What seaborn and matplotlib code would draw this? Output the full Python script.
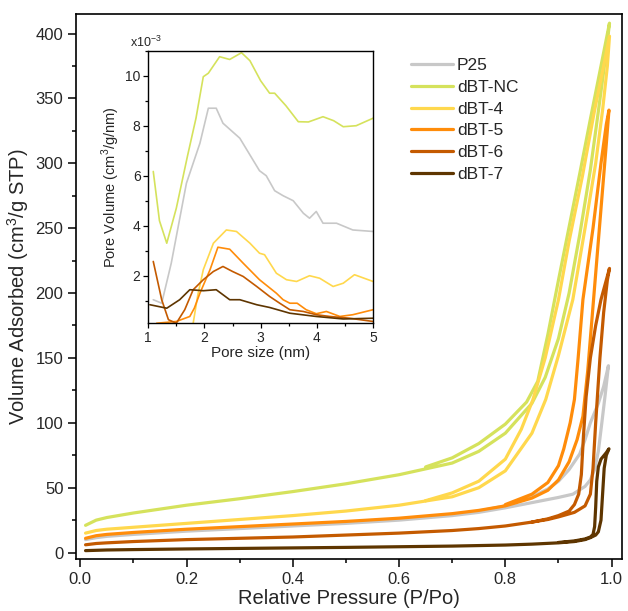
import numpy as np
import matplotlib
matplotlib.use("Agg")
import matplotlib.pyplot as plt
from matplotlib.ticker import MultipleLocator
import seaborn as sns

sns.set_theme(style="ticks")
plt.rcParams["font.family"] = ["Liberation Sans", "DejaVu Sans"]
plt.rcParams["mathtext.fontset"] = "custom"
plt.rcParams["mathtext.rm"] = "Liberation Sans"

samples = ["P25", "dBT-NC", "dBT-4", "dBT-5", "dBT-6", "dBT-7"]
colors = ["#c8c8c8", "#d5e25c", "#ffd84d", "#ff8c0a", "#c45a00", "#5e3500"]

# ---- N2 isotherms: adsorption (ascending) and desorption (descending) branches
p25_p_ads = [0.01, 0.03, 0.05, 0.1, 0.2, 0.3, 0.4, 0.5, 0.6, 0.7, 0.75, 0.8, 0.85, 0.9, 0.927, 0.95, 0.96, 0.968, 0.975, 0.981, 0.988, 0.994]
p25_v_ads = [10, 11.5, 12.5, 14, 16.5, 18.5, 20.5, 22.5, 25, 28.5, 31, 34.5, 38.5, 42.5, 45, 51, 56, 64, 78, 98, 122, 144]
p25_p_des = [0.994, 0.985, 0.975, 0.96, 0.95, 0.94, 0.92, 0.9, 0.88, 0.85, 0.8, 0.75]
p25_v_des = [144, 128, 115, 100, 87, 76, 64, 55, 49, 43, 36, 32]

nc_p_ads = [0.01, 0.03, 0.05, 0.1, 0.2, 0.3, 0.4, 0.5, 0.6, 0.7, 0.75, 0.8, 0.85, 0.875, 0.9, 0.92, 0.94, 0.96, 0.975, 0.988, 0.996]
nc_v_ads = [21, 25, 27, 30.5, 36.5, 41.5, 47, 53, 60, 69, 78, 92, 115, 135, 165, 200, 245, 295, 340, 380, 408]
nc_p_des = [0.996, 0.98, 0.96, 0.94, 0.92, 0.9, 0.88, 0.861, 0.84, 0.8, 0.75, 0.7, 0.65]
nc_v_des = [408, 375, 334, 292, 251, 210, 168, 132, 116, 99, 84, 73, 66]

b4_p_ads = [0.01, 0.03, 0.05, 0.1, 0.2, 0.3, 0.4, 0.5, 0.6, 0.7, 0.75, 0.8, 0.85, 0.876, 0.9, 0.927, 0.95, 0.97, 0.983, 0.992, 0.996]
b4_v_ads = [15, 17, 18, 19.5, 22.5, 25.5, 28.5, 32, 36.5, 43, 50, 63, 92, 118, 152, 195, 250, 300, 341, 375, 398]
b4_p_des = [0.996, 0.985, 0.968, 0.945, 0.92, 0.9, 0.875, 0.852, 0.83, 0.8, 0.75, 0.7, 0.65]
b4_v_des = [398, 375, 341, 290, 240, 195, 150, 118, 95, 72, 55, 46, 40]

b5_p_ads = [0.01, 0.03, 0.05, 0.1, 0.2, 0.3, 0.4, 0.5, 0.6, 0.7, 0.75, 0.8, 0.85, 0.88, 0.9, 0.92, 0.935, 0.946, 0.955, 0.966, 0.975, 0.984, 0.99, 0.995]
b5_v_ads = [11, 13, 14, 15.5, 18, 20, 22, 24, 26.5, 30, 32.5, 36, 42, 48, 56, 70, 87, 105, 140, 195, 240, 285, 315, 341]
b5_p_des = [0.995, 0.99, 0.98, 0.965, 0.946, 0.937, 0.93, 0.922, 0.91, 0.9, 0.88, 0.85, 0.8]
b5_v_des = [341, 330, 300, 250, 195, 150, 118, 100, 80, 67, 54, 45, 37]

b6_p_ads = [0.01, 0.03, 0.05, 0.1, 0.2, 0.3, 0.4, 0.5, 0.6, 0.7, 0.75, 0.8, 0.85, 0.88, 0.9, 0.93, 0.95, 0.96, 0.965, 0.97, 0.978, 0.985, 0.992, 0.996]
b6_v_ads = [6, 7, 7.5, 8.5, 10, 11, 12, 13.5, 15, 17, 18.5, 20.5, 23.5, 25.5, 27.5, 31, 36, 45, 65, 100, 150, 185, 210, 219]
b6_p_des = [0.996, 0.99, 0.98, 0.97, 0.96, 0.952, 0.947, 0.943, 0.938, 0.93, 0.92, 0.9, 0.88, 0.85]
b6_v_des = [219, 210, 195, 175, 150, 120, 90, 60, 45, 37, 32, 28.5, 26, 23.5]

b7_p_ads = [0.01, 0.05, 0.1, 0.2, 0.3, 0.4, 0.5, 0.6, 0.7, 0.8, 0.85, 0.9, 0.93, 0.95, 0.96, 0.97, 0.975, 0.98, 0.983, 0.986, 0.99, 0.995]
b7_v_ads = [1.5, 2, 2.3, 2.8, 3.2, 3.6, 4, 4.5, 5, 5.8, 6.5, 7.5, 8.5, 10, 11.5, 13.5, 16, 25, 45, 65, 75, 80]
b7_p_des = [0.995, 0.99, 0.98, 0.975, 0.972, 0.97, 0.968, 0.965, 0.96, 0.95, 0.93, 0.9]
b7_v_des = [80, 77, 72, 66, 55, 35, 20, 14, 12, 10.5, 9, 7.8]

iso_p = [(p25_p_ads, p25_p_des), (nc_p_ads, nc_p_des), (b4_p_ads, b4_p_des),
         (b5_p_ads, b5_p_des), (b6_p_ads, b6_p_des), (b7_p_ads, b7_p_des)]
iso_v = [(p25_v_ads, p25_v_des), (nc_v_ads, nc_v_des), (b4_v_ads, b4_v_des),
         (b5_v_ads, b5_v_des), (b6_v_ads, b6_v_des), (b7_v_ads, b7_v_des)]

# ---- pore size distributions (x1e-3 cm3/g/nm)
p25_d = [1.09, 1.24, 1.41, 1.68, 1.92, 2.07, 2.21, 2.33, 2.63, 2.98, 3.1, 3.25, 3.4, 3.58, 3.76, 3.87, 3.99, 4.11, 4.35, 4.64, 5.0]
p25_pv = [1.04, 0.9, 2.5, 5.7, 7.3, 8.7, 8.7, 8.1, 7.5, 6.2, 6.0, 5.4, 5.2, 5.0, 4.5, 4.3, 4.57, 4.1, 4.1, 3.83, 3.77]

nc_d = [1.09, 1.2, 1.33, 1.5, 1.7, 1.85, 1.98, 2.07, 2.27, 2.45, 2.66, 2.81, 3.0, 3.16, 3.25, 3.45, 3.67, 3.85, 4.11, 4.3, 4.47, 4.7, 5.0]
nc_pv = [6.17, 4.2, 3.3, 4.7, 6.8, 8.3, 9.96, 10.1, 10.76, 10.65, 10.92, 10.6, 9.8, 9.3, 9.3, 8.8, 8.16, 8.15, 8.36, 8.2, 7.96, 8.0, 8.3]

b4_d = [1.8, 1.88, 1.98, 2.16, 2.39, 2.57, 2.81, 2.98, 3.07, 3.28, 3.46, 3.64, 3.87, 4.05, 4.29, 4.47, 4.67, 5.0]
b4_pv = [0.1, 1.2, 2.24, 3.3, 3.83, 3.77, 3.3, 2.9, 2.84, 2.1, 1.84, 1.77, 2.0, 1.9, 1.57, 1.7, 2.04, 1.77]

b5_d = [1.15, 1.5, 1.74, 1.82, 1.92, 2.1, 2.24, 2.45, 2.69, 2.98, 3.28, 3.4, 3.52, 3.65, 3.81, 3.99, 4.17, 4.41, 4.64, 5.0]
b5_pv = [0.1, 0.17, 0.37, 0.7, 1.3, 2.24, 3.14, 3.06, 2.5, 1.84, 1.3, 1.04, 0.9, 0.9, 0.64, 0.48, 0.57, 0.37, 0.44, 0.64]

b6_d = [1.09, 1.24, 1.36, 1.5, 1.65, 1.8, 1.98, 2.16, 2.33, 2.5, 2.69, 2.93, 3.16, 3.34, 3.52, 3.76, 3.99, 4.23, 4.58, 5.0]
b6_pv = [2.57, 1.04, 0.24, 0.1, 0.64, 1.44, 1.84, 2.17, 2.37, 2.17, 1.97, 1.57, 1.17, 0.9, 0.64, 0.57, 0.44, 0.37, 0.3, 0.17]

b7_d = [1.03, 1.33, 1.56, 1.74, 1.98, 2.21, 2.45, 2.63, 2.93, 3.16, 3.52, 3.99, 4.47, 5.0]
b7_pv = [0.84, 0.7, 1.04, 1.44, 1.4, 1.44, 1.04, 1.04, 0.84, 0.73, 0.5, 0.37, 0.27, 0.3]

psd_d = [p25_d, nc_d, b4_d, b5_d, b6_d, b7_d]
psd_pv = [p25_pv, nc_pv, b4_pv, b5_pv, b6_pv, b7_pv]

fig = plt.figure(figsize=(6.28, 6.11), dpi=100)
ax = fig.add_axes([0.121, 0.085, 0.869, 0.892])

for name, c, (pa, pd_), (va, vd) in zip(samples, colors, iso_p, iso_v):
    px = list(pa) + list(pd_)
    vy = list(va) + list(vd)
    sns.lineplot(x=px, y=vy, sort=False, estimator=None, color=c, lw=2.3, ax=ax, label=name)

ax.set_xlim(-0.008, 1.019)
ax.set_ylim(-5, 415)
ax.xaxis.set_major_locator(MultipleLocator(0.2))
ax.xaxis.set_minor_locator(MultipleLocator(0.1))
ax.yaxis.set_major_locator(MultipleLocator(50))
ax.yaxis.set_minor_locator(MultipleLocator(25))
ax.xaxis.set_major_formatter(plt.FuncFormatter(lambda v, _: f"{v:.1f}"))
ax.tick_params(which="major", direction="out", length=5.5, width=1.1, labelsize=12, color="black")
ax.tick_params(which="minor", direction="out", length=3, width=1.1, color="black")
ax.tick_params(top=False, right=False, which="both")
for s in ax.spines.values():
    s.set_linewidth(1.2)
    s.set_color("black")
ax.set_xlabel("Relative Pressure (P/Po)", fontsize=14.5, labelpad=2)
ax.set_ylabel("Volume Adsorbed (cm$^3$/g STP)", fontsize=14.5, labelpad=3)
ax.legend(loc="upper left", bbox_to_anchor=(0.585, 0.948), frameon=False, fontsize=12.5,
          handlelength=2.4, handletextpad=0.25, labelspacing=0.38)

# ---- inset
ins = fig.add_axes([0.236, 0.471, 0.358, 0.446])
for c, d, v in zip(colors, psd_d, psd_pv):
    sns.lineplot(x=d, y=v, sort=False, estimator=None, color=c, lw=1.2, ax=ins)
ins.set_xlim(1, 5)
ins.set_ylim(0.1, 11.0)
ins.xaxis.set_major_locator(MultipleLocator(1))
ins.xaxis.set_minor_locator(MultipleLocator(0.5))
ins.set_yticks([2, 4, 6, 8, 10])
ins.yaxis.set_minor_locator(MultipleLocator(1))
ins.tick_params(which="major", direction="out", length=3.5, width=0.9, labelsize=10, pad=2, color="black")
ins.tick_params(which="minor", direction="out", length=2, width=0.9, color="black")
for s in ins.spines.values():
    s.set_linewidth(1.0)
    s.set_color("black")
ins.set_xlabel("Pore size (nm)", fontsize=11, labelpad=1)
ins.set_ylabel("Pore Volume (cm$^3$/g/nm)", fontsize=10.5, labelpad=2)
ins.text(-0.08, 1.03, "x10$^{-3}$", transform=ins.transAxes, fontsize=9, ha="left", va="center")

fig.savefig("out.png", dpi=100)
